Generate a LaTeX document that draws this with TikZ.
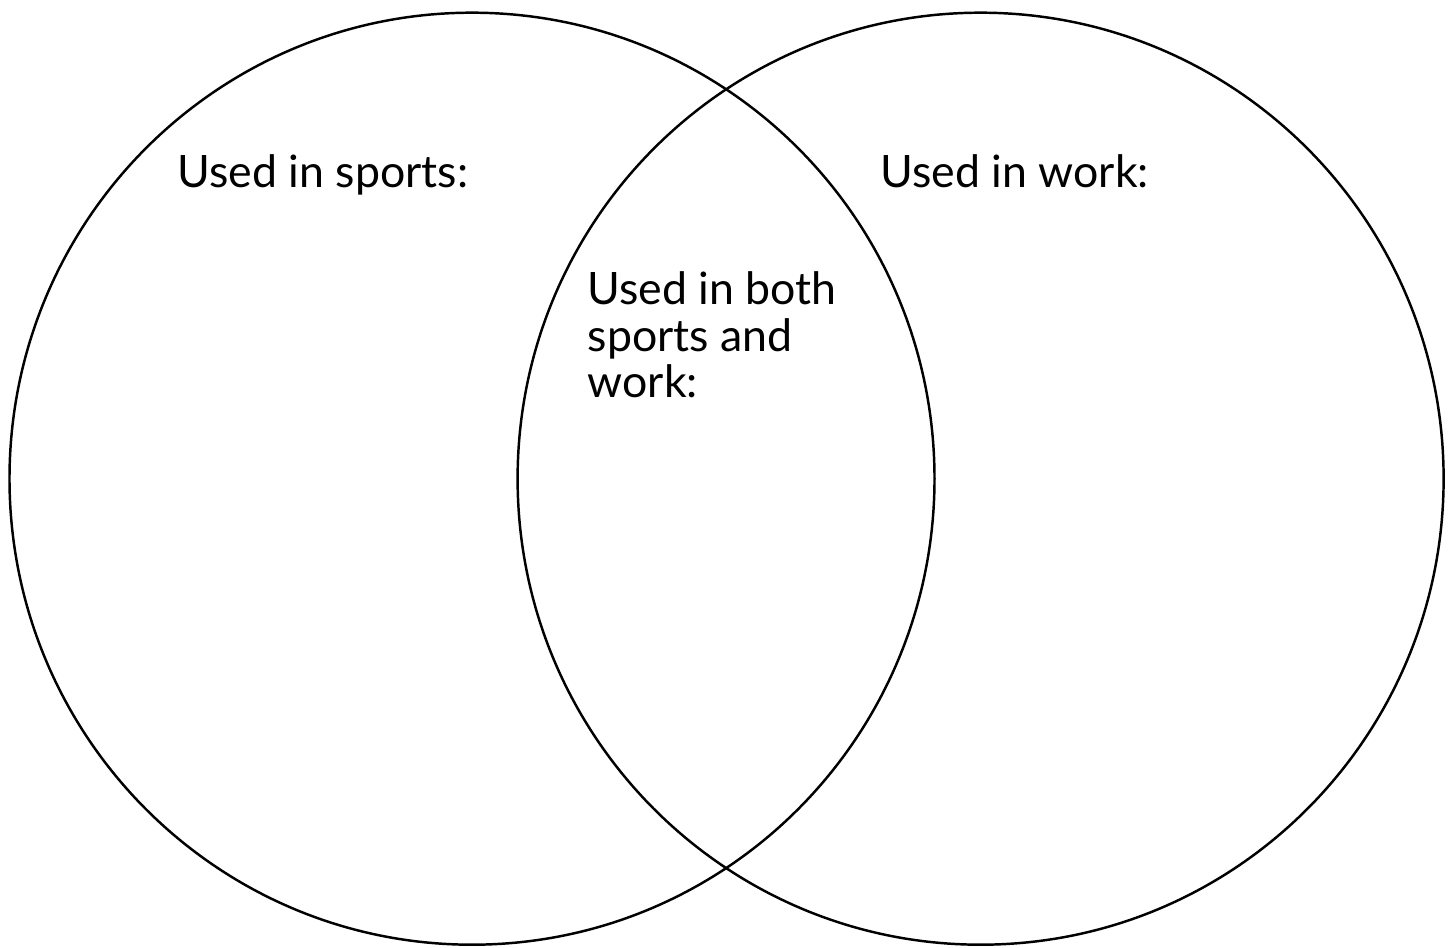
\documentclass[tikz,border=0pt]{standalone}
\usepackage{fontspec}
\setmainfont{Lato}
\begin{document}
\begin{tikzpicture}[ring/.style={line width=0.7pt},
  lbl/.style={anchor=base west, inner sep=0pt, font=\fontsize{12.7pt}{13.3pt}\selectfont, align=left}]
\useasboundingbox (0,0) rectangle (14.53,9.47);
\draw[ring] (4.72,4.683) ellipse [x radius=4.625, y radius=4.66];
\draw[ring] (9.806,4.683) ellipse [x radius=4.63, y radius=4.66];
\node[lbl] (sports) at (1.77,7.59) {Used in sports:};
\node[lbl] (work) at (8.80,7.59) {Used in work:};
\node[lbl] (both) at (5.87,5.49) {Used in both\\sports and\\work:};
\end{tikzpicture}
\end{document}
